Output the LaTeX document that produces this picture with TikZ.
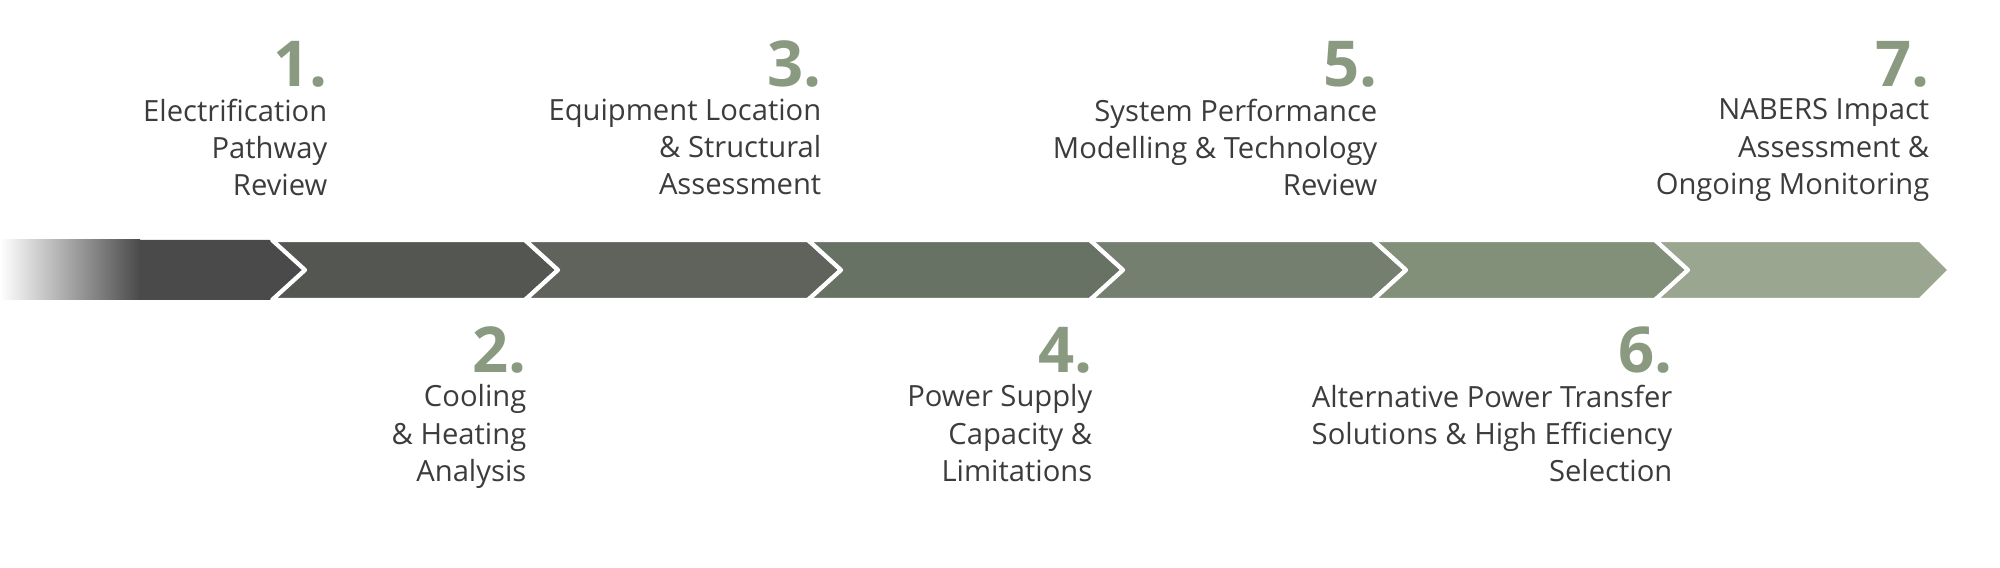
\documentclass[tikz,border=0pt]{standalone}
\usepackage{fontspec}
\setmainfont{Open Sans}
\definecolor{segA}{HTML}{4A4A4A}
\definecolor{segB}{HTML}{535651}
\definecolor{segC}{HTML}{5F635C}
\definecolor{segD}{HTML}{687264}
\definecolor{segE}{HTML}{757F70}
\definecolor{segF}{HTML}{828F79}
\definecolor{segG}{HTML}{9AA68F}
\definecolor{numcol}{HTML}{8A9A80}
\definecolor{txtcol}{HTML}{3C3C3C}
\tikzset{
	steplabel/.style={anchor=north east, align=right, text=txtcol, font=\fontsize{8.3pt}{10.6pt}\selectfont, inner sep=0pt},
	stepnum/.style={anchor=south east, text=numcol, font=\fontsize{18pt}{18pt}\selectfont\bfseries, inner sep=0pt},
}
\begin{document}
\begin{tikzpicture}[
	x=0.01cm,
	y=-0.01cm,
	line join=round,
	]
\useasboundingbox (0,0) rectangle (2000,568);
% first segment with fade
\shade[left color=white, right color=segA] (0,240) rectangle (140,300);
\fill[segA] (139,240) -- (272,240) -- (305,270) -- (272,300) -- (139,300) -- cycle;
\foreach \a/\b/\c in {272/525/segB, 525/808/segC, 808/1090/segD, 1090/1373/segE, 1373/1655/segF}
	\fill[\c, draw=white, line width=1.2pt] (\a,240) -- (\b,240) -- (\b+33,270) -- (\b,300) -- (\a,300) -- (\a+33,270) -- cycle;
\fill[segG, draw=white, line width=1.2pt] (1655,240) -- (1920,240) -- (1950,270) -- (1920,300) -- (1655,300) -- (1688,270) -- cycle;
% top labels
\foreach \x/\n/\t in {328/1/{Electrification\\Pathway\\Review},
	822/3/{Equipment Location\\\& Structural\\Assessment},
	1378/5/{System Performance\\Modelling \& Technology\\Review},
	1930/7/{NABERS Impact\\Assessment \&\\Ongoing Monitoring}}
	{
	\node[stepnum] (num\n) at (\x,88) {\n.};
	\node[steplabel] (lab\n) at (\x,98) {\t};
	}
% bottom labels
\foreach \x/\n/\t in {527/2/{Cooling\\\& Heating\\Analysis},
	1093/4/{Power Supply\\Capacity \&\\Limitations},
	1673/6/{Alternative Power Transfer\\Solutions \& High Efficiency\\Selection}}
	{
	\node[stepnum] (num\n) at (\x,374) {\n.};
	\node[steplabel] (lab\n) at (\x,384) {\t};
	}
\end{tikzpicture}
\end{document}
